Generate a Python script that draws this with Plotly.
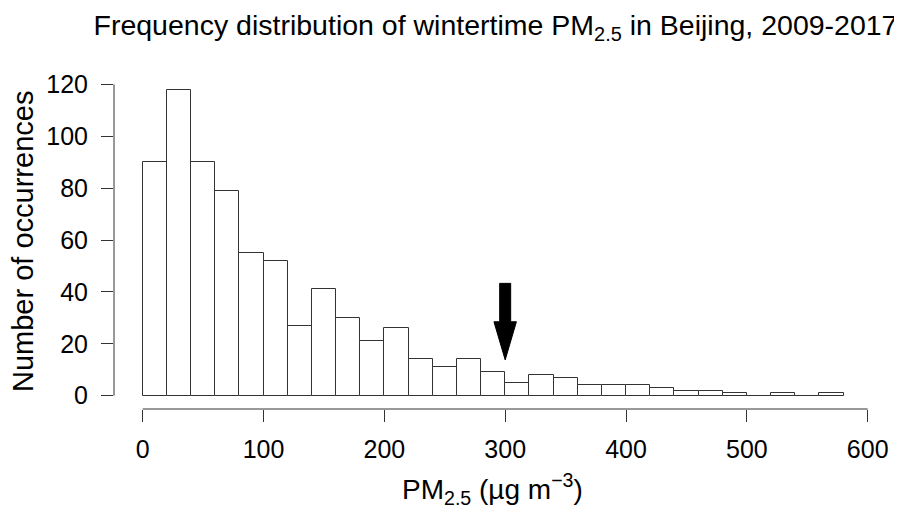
import plotly.graph_objects as go

# Histogram data (bin width 20 ug/m3)
bin_left = list(range(0, 580, 20))
counts = [90, 118, 90, 79, 55, 52, 27, 41, 30, 21, 26, 14, 11, 14, 9,
          5, 8, 7, 4, 4, 4, 3, 2, 2, 1, 0, 1, 0, 1]
bin_width = 20
x_ticks = [0, 100, 200, 300, 400, 500, 600]
y_ticks = [0, 20, 40, 60, 80, 100, 120]
arrow_x = 300
arrow_top, arrow_head_base, arrow_tip = 43.3, 28.5, 13.8
shaft_half, head_half = 4.55, 9.3

centers = [b + bin_width / 2 for b in bin_left]
line_col = "#333333"
font_family = "Liberation Sans, Arial, sans-serif"

fig = go.Figure()
fig.add_trace(go.Bar(
    x=centers, y=counts, width=[bin_width] * len(counts),
    marker=dict(color="white", line=dict(color=line_col, width=1)),
    hoverinfo="x+y", showlegend=False,
))

path = (f"M {arrow_x - shaft_half},{arrow_top} L {arrow_x + shaft_half},{arrow_top} "
        f"L {arrow_x + shaft_half},{arrow_head_base} L {arrow_x + head_half},{arrow_head_base} "
        f"L {arrow_x},{arrow_tip} L {arrow_x - head_half},{arrow_head_base} "
        f"L {arrow_x - shaft_half},{arrow_head_base} Z")
fig.add_shape(type="path", path=path, xref="x", yref="y",
              fillcolor="black", line=dict(color="black", width=1))

# R-style detached axis lines
fig.add_shape(type="line", xref="x", yref="paper", x0=x_ticks[0], x1=x_ticks[-1], y0=0, y1=0,
              line=dict(color=line_col, width=1))
fig.add_shape(type="line", xref="paper", yref="y", x0=0, x1=0, y0=y_ticks[0], y1=y_ticks[-1],
              line=dict(color=line_col, width=1))

# The page body has an 8px default margin, so the figure is 8px smaller
W, H = 894, 500
L, R, T, B = 106, 22, 52, 99
PW, PH = W - L - R, H - T - B


def px_to_paper(px, py):
    """page pixel -> paper coords (accounting for the 8px body margin)"""
    fx, fy = px - 8, py - 8
    return (fx - L) / PW, 1 - (fy - T) / PH


xt_x, xt_y = px_to_paper(492.5, 489)
yt_x, yt_y = px_to_paper(23, 242)

fig.add_annotation(text="PM<sub>2.5</sub> (µg m<sup>−3</sup>)", xref="paper", yref="paper",
                   x=xt_x, y=xt_y, xanchor="center", yanchor="middle", showarrow=False,
                   font=dict(size=28, family=font_family, color="black"))
fig.add_annotation(text="Number of occurrences", xref="paper", yref="paper",
                   x=yt_x, y=yt_y, xanchor="center", yanchor="middle", showarrow=False,
                   textangle=-90,
                   font=dict(size=29, family=font_family, color="black"))

fig.update_layout(
    width=W, height=H,
    margin=dict(l=L, r=R, t=T, b=B, autoexpand=False),
    plot_bgcolor="white", paper_bgcolor="white",
    font=dict(family=font_family, color="black"),
    bargap=0,
    title=dict(
        text="Frequency distribution of wintertime PM<sub>2.5</sub> in Beijing, 2009-2017",
        x=487.5 / W, xanchor="center", y=1 - 17 / H, yanchor="middle",
        xref="container", yref="container", automargin=False,
        font=dict(size=28.5, family=font_family, color="black"),
    ),
    xaxis=dict(
        range=[-23.75, 610.2], tickvals=x_ticks, ticks="outside", ticklen=12,
        tickcolor=line_col, tickwidth=1, showgrid=False, zeroline=False, showline=False,
        automargin=False, ticklabelstandoff=6,
        tickfont=dict(size=25, family=font_family, color="black"),
    ),
    yaxis=dict(
        range=[-5.13, 129.4], tickvals=y_ticks, ticks="outside", ticklen=12,
        tickcolor=line_col, tickwidth=1, showgrid=False, zeroline=False, showline=False,
        automargin=False, ticklabelstandoff=8,
        tickfont=dict(size=25, family=font_family, color="black"),
    ),
)

fig.write_html("out.html")
